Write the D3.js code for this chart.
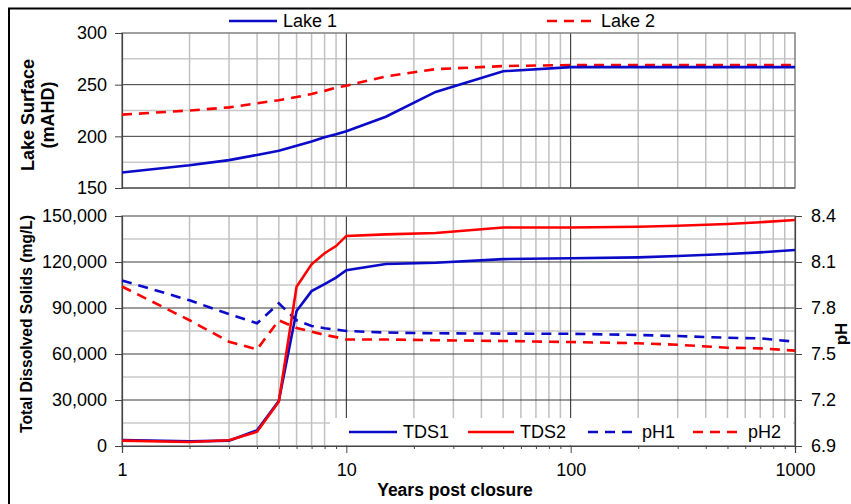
<!DOCTYPE html>
<html>
<head>
<meta charset="utf-8">
<script src="https://cdn.jsdelivr.net/npm/d3@7"></script>
<style>
  body { margin: 0; background: #fff; }
  text { font-family: "Liberation Sans", Arial, sans-serif; fill: #000; }
</style>
</head>
<body>
<div id="chart"></div>
<script>
// DATA
var years = [1, 2, 3, 4, 5, 6, 7, 8, 9, 10, 15, 25, 50, 100, 200, 300, 500, 700, 1000];

var lake1 = [165, 172, 177, 182, 186, 191, 195, 199, 202, 205, 219, 243, 263, 267, 267, 267, 267, 267, 267];
var lake2 = [221, 225, 228, 232, 235, 238, 241, 244, 247, 249, 258, 265, 268, 269, 269, 269, 269, 269, 269];

var tds1 = [3900, 3000, 3500, 10200, 29300, 88000, 101000, 105600, 109800, 114700, 118700, 119500, 121900, 122400, 123000, 123900, 125200, 126300, 127800];
var tds2 = [3500, 2600, 3700, 9300, 28900, 103900, 118500, 125700, 130400, 137000, 138000, 138900, 142500, 142500, 143000, 143600, 144800, 145900, 147400];

var ph1 = [7.98, 7.85, 7.76, 7.70, 7.83, 7.72, 7.683, 7.668, 7.659, 7.65, 7.64, 7.635, 7.633, 7.632, 7.624, 7.617, 7.606, 7.602, 7.58];
var ph2 = [7.94, 7.72, 7.58, 7.53, 7.72, 7.67, 7.645, 7.625, 7.61, 7.595, 7.595, 7.59, 7.585, 7.578, 7.57, 7.56, 7.541, 7.537, 7.522];

var xTicks = [1, 10, 100, 1000];
var lakeTicks = [150, 200, 250, 300];
var tdsTicks = [0, 30000, 60000, 90000, 120000, 150000];
var phTicks = [6.9, 7.2, 7.5, 7.8, 8.1, 8.4];

// SETUP
var width = 851, height = 504;
var BLUE = "#0a0ac8", RED = "#ff0000";

var svg = d3.select("#chart").append("svg")
	.attr("width", width)
	.attr("height", height);

var x = d3.scaleLog().domain([1, 1000]).range([122, 795]);
var yLake = d3.scaleLinear().domain([150, 300]).range([188, 33]);
var yTds = d3.scaleLinear().domain([0, 150000]).range([446, 216]);
var yPh = d3.scaleLinear().domain([6.9, 8.4]).range([446, 216]);

// outer frame (only top/left visible)
svg.append("path")
	.attr("d", "M9,504 V8.5 H851")
	.attr("fill", "none")
	.attr("stroke", "#000")
	.attr("stroke-width", 2);

// minor x positions 2..9 in each decade
var minorX = [];
[1, 10, 100].forEach(function(d){
	for (var i = 2; i <= 9; i++) minorX.push(d * i);
});

function drawGrid(y, minorY, majorY){
	var g = svg.append("g");
	g.selectAll(".hmin").data(minorY).enter().append("line")
		.attr("x1", x(1)).attr("x2", x(1000))
		.attr("y1", function(d){ return y(d); }).attr("y2", function(d){ return y(d); })
		.attr("stroke", "#c8c8c8").attr("stroke-width", 1.5);
	g.selectAll(".vmin").data(minorX).enter().append("line")
		.attr("x1", function(d){ return x(d); }).attr("x2", function(d){ return x(d); })
		.attr("y1", y.range()[0]).attr("y2", y.range()[1])
		.attr("stroke", "#c0c0c0").attr("stroke-width", 1.5);
	g.selectAll(".hmaj").data(majorY).enter().append("line")
		.attr("x1", x(1)).attr("x2", x(1000))
		.attr("y1", function(d){ return y(d); }).attr("y2", function(d){ return y(d); })
		.attr("stroke", "#3a3a3a").attr("stroke-width", 1);
	g.selectAll(".vmaj").data([10, 100]).enter().append("line")
		.attr("x1", function(d){ return x(d); }).attr("x2", function(d){ return x(d); })
		.attr("y1", y.range()[0]).attr("y2", y.range()[1])
		.attr("stroke", "#222").attr("stroke-width", 1);
	// plot border
	g.append("rect")
		.attr("x", x(1)).attr("y", y.range()[1])
		.attr("width", x(1000) - x(1)).attr("height", y.range()[0] - y.range()[1])
		.attr("fill", "none").attr("stroke", "#808080").attr("stroke-width", 1.5);
}

drawGrid(yLake, [175, 225, 275], [200, 250]);
drawGrid(yTds, [15000, 45000, 75000, 105000, 135000], [30000, 60000, 90000, 120000]);

// AXES
var fmt = d3.format(",");

var lakeAxis = svg.append("g").attr("transform", "translate(" + x(1) + ",0)")
	.call(d3.axisLeft(yLake).tickValues(lakeTicks).tickSize(7).tickPadding(8));
var tdsAxis = svg.append("g").attr("transform", "translate(" + x(1) + ",0)")
	.call(d3.axisLeft(yTds).tickValues(tdsTicks).tickSize(7).tickPadding(8).tickFormat(fmt));
var phAxis = svg.append("g").attr("transform", "translate(" + x(1000) + ",0)")
	.call(d3.axisRight(yPh).tickValues(phTicks).tickSize(7).tickPadding(9).tickFormat(d3.format(".1f")));
var xAxis = svg.append("g").attr("transform", "translate(0," + yTds(0) + ")")
	.call(d3.axisBottom(x).tickValues(xTicks).tickSize(7).tickPadding(10).tickFormat(d3.format("d")));
var xMinor = svg.append("g").attr("transform", "translate(0," + yTds(0) + ")")
	.call(d3.axisBottom(x).tickValues(minorX).tickSize(3).tickFormat(""));
// top panel bottom line
svg.append("line").attr("x1", x(1)).attr("x2", x(1000))
	.attr("y1", yLake(150)).attr("y2", yLake(150))
	.attr("stroke", "#444").attr("stroke-width", 1);

[lakeAxis, tdsAxis, phAxis, xAxis, xMinor].forEach(function(a){
	a.selectAll("path.domain").attr("stroke", "#444").attr("stroke-width", 1.2);
	a.selectAll(".tick line").attr("stroke", "#444");
	a.selectAll("text")
		.style("font-family", "Liberation Sans, Arial, sans-serif")
		.style("font-size", "18px")
		.attr("fill", "#000");
});

// LINES
function drawLine(y, values, color, dashed){
	var line = d3.line()
		.x(function(d, i){ return x(years[i]); })
		.y(function(d){ return y(d); });
	svg.append("path")
		.datum(values)
		.attr("d", line)
		.attr("fill", "none")
		.attr("stroke", color)
		.attr("stroke-width", 2.6)
		.attr("stroke-dasharray", dashed ? "10,7" : null);
}

drawLine(yLake, lake2, RED, true);
drawLine(yLake, lake1, BLUE, false);

drawLine(yPh, ph2, RED, true);
drawLine(yPh, ph1, BLUE, true);
drawLine(yTds, tds1, BLUE, false);
drawLine(yTds, tds2, RED, false);

// LEGENDS
function legendItem(x1, x2, y, label, color, dashed){
	svg.append("line")
		.attr("x1", x1).attr("x2", x2).attr("y1", y).attr("y2", y)
		.attr("stroke", color).attr("stroke-width", 2.6)
		.attr("stroke-dasharray", dashed ? "10,7" : null);
	svg.append("text")
		.attr("x", x2 + 6).attr("y", y + 6)
		.style("font-size", "18px")
		.text(label);
}

legendItem(229, 277, 21, "Lake 1", BLUE, false);
legendItem(547, 595, 21, "Lake 2", RED, true);

svg.append("rect")
	.attr("x", 330).attr("y", 418).attr("width", 463).attr("height", 27)
	.attr("fill", "#fff");
legendItem(349, 397, 432, "TDS1", BLUE, false);
legendItem(468, 514, 432, "TDS2", RED, false);
legendItem(588, 636, 432, "pH1", BLUE, true);
legendItem(693, 742, 432, "pH2", RED, true);

// AXIS TITLES
svg.append("text")
	.attr("transform", "translate(34,115) rotate(-90)")
	.attr("text-anchor", "middle")
	.style("font-size", "18px").style("font-weight", "bold")
	.text("Lake Surface");
svg.append("text")
	.attr("transform", "translate(54,115) rotate(-90)")
	.attr("text-anchor", "middle")
	.style("font-size", "18px").style("font-weight", "bold")
	.text("(mAHD)");
svg.append("text")
	.attr("transform", "translate(32,324) rotate(-90)")
	.attr("text-anchor", "middle")
	.attr("textLength", 218).attr("lengthAdjust", "spacingAndGlyphs")
	.style("font-size", "17px").style("font-weight", "bold")
	.text("Total Dissolved Solids (mg/L)");
svg.append("text")
	.attr("transform", "translate(847,334) rotate(-90)")
	.attr("text-anchor", "middle")
	.style("font-size", "17px").style("font-weight", "bold")
	.text("pH");
svg.append("text")
	.attr("x", 455).attr("y", 496)
	.attr("text-anchor", "middle")
	.style("font-size", "17.5px").style("font-weight", "bold")
	.text("Years post closure");
</script>
</body>
</html>
